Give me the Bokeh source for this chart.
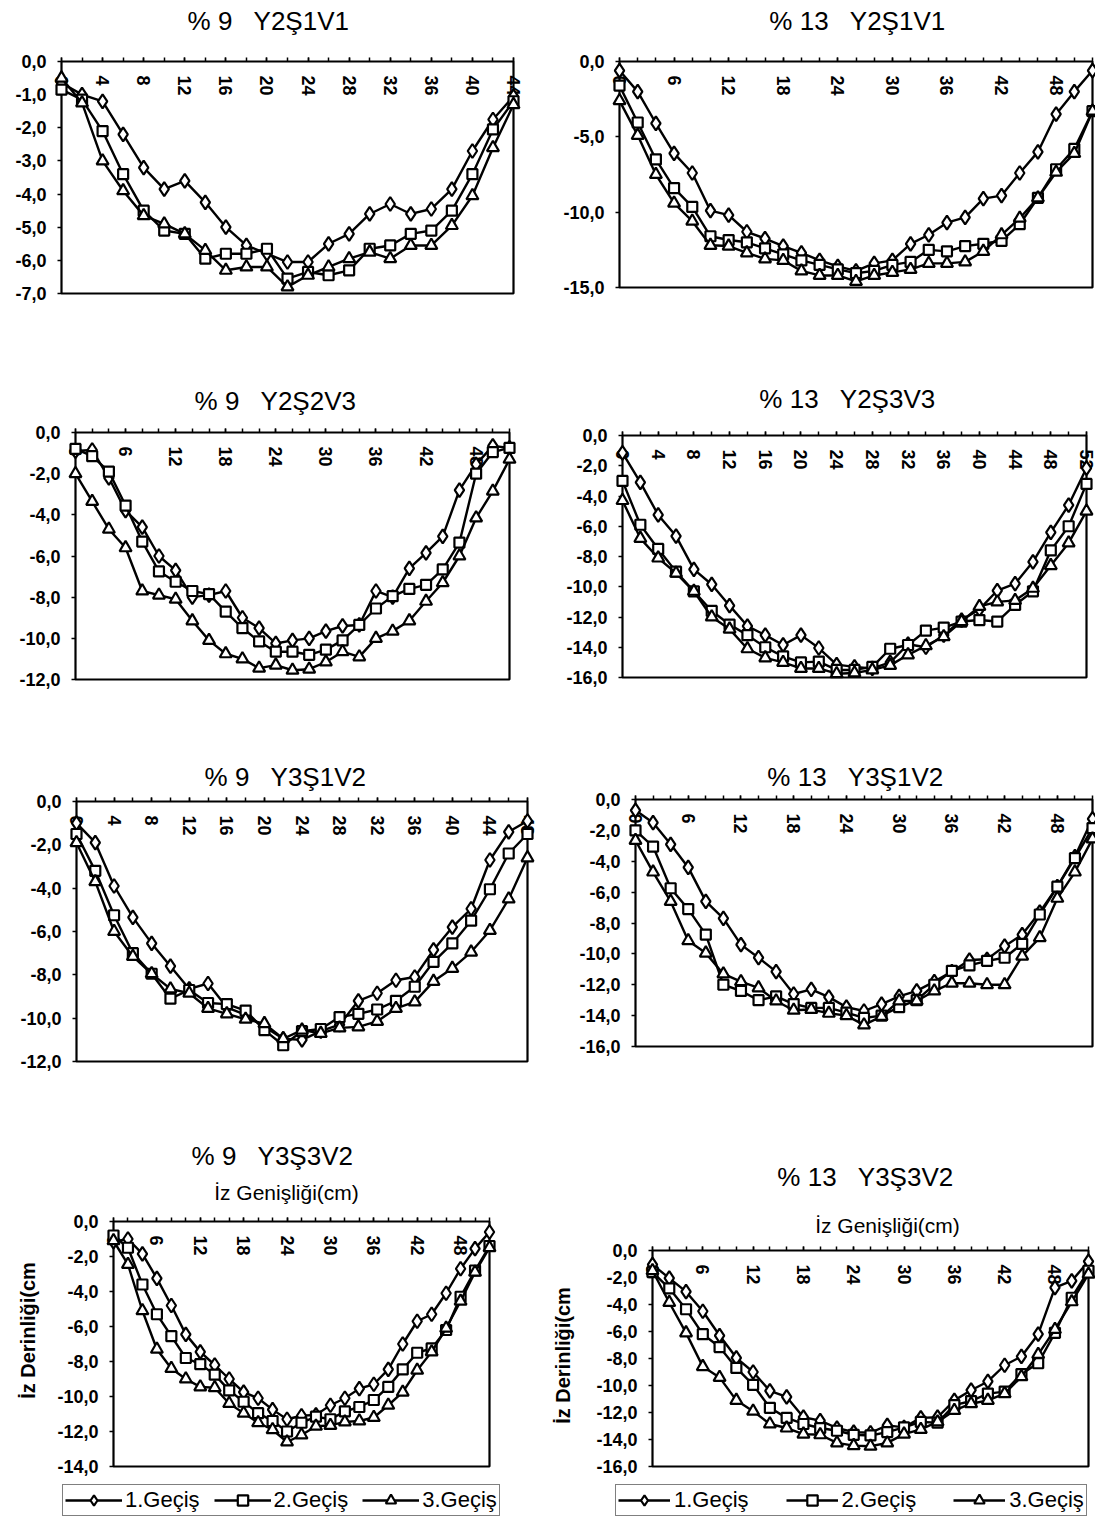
import math
from bokeh.plotting import figure
from bokeh.models import (FixedTicker, CustomJSTickFormatter, Range1d, Label,
                          Legend, LegendItem)
from bokeh.layouts import row, column
from bokeh.embed import file_html
from bokeh.resources import INLINE

FONT = "Liberation Sans"

# ---------------- categories (İz Genişliği, cm) ----------------
width_44 = [0, 2, 4, 6, 8, 10, 12, 14, 16, 18, 20, 22, 24, 26, 28, 30, 32, 34,
            36, 38, 40, 42, 44]
width_48 = [0, 2, 4, 6, 8, 10, 12, 14, 16, 18, 20, 22, 24, 26, 28, 30, 32, 34,
            36, 38, 40, 42, 44, 46, 48]
width_52 = [0, 2, 4, 6, 8, 10, 12, 14, 16, 18, 20, 22, 24, 26, 28, 30, 32, 34,
            36, 38, 40, 42, 44, 46, 48, 50, 52]

# ---------------- tick labels ----------------
xl_4_44 = [0, 4, 8, 12, 16, 20, 24, 28, 32, 36, 40, 44]
xl_4_48 = [0, 4, 8, 12, 16, 20, 24, 28, 32, 36, 40, 44, 48]
xl_4_52 = [0, 4, 8, 12, 16, 20, 24, 28, 32, 36, 40, 44, 48, 52]
xl_6_48 = [0, 6, 12, 18, 24, 30, 36, 42, 48]

yt_7 = [0, -1, -2, -3, -4, -5, -6, -7]
yt_12 = [0, -2, -4, -6, -8, -10, -12]
yt_14 = [0, -2, -4, -6, -8, -10, -12, -14]
yt_15 = [0, -5, -10, -15]
yt_16 = [0, -2, -4, -6, -8, -10, -12, -14, -16]

series_names = ["1.Geçiş", "2.Geçiş", "3.Geçiş"]

# ---------------- İz Derinliği (cm) ----------------
# % 9  Y2Ş1V1
p1_g1 = [-0.65, -1.0, -1.2, -2.2, -3.2, -3.85, -3.6, -4.25, -5.0, -5.55, -5.8,
         -6.05, -6.05, -5.5, -5.2, -4.6, -4.3, -4.6, -4.45, -3.85, -2.7, -1.75, -1.05]
p1_g2 = [-0.85, -1.15, -2.1, -3.4, -4.5, -5.1, -5.2, -5.95, -5.8, -5.8, -5.65,
         -6.55, -6.35, -6.45, -6.3, -5.65, -5.55, -5.2, -5.1, -4.5, -3.4, -2.05, -1.2]
p1_g3 = [-0.5, -1.25, -3.0, -3.9, -4.65, -4.9, -5.2, -5.7, -6.3, -6.2, -6.2,
         -6.8, -6.45, -6.2, -5.95, -5.75, -5.95, -5.55, -5.55, -4.95, -4.05, -2.6, -1.3]

# % 13  Y2Ş1V1
p2_g1 = [-0.6, -2.0, -4.1, -6.1, -7.4, -9.9, -10.2, -11.3, -11.75, -12.25, -12.7,
         -13.2, -13.6, -13.9, -13.4, -13.2, -12.1, -11.5, -10.7, -10.35, -9.1, -8.9,
         -7.4, -6.0, -3.5, -2.0, -0.6]
p2_g2 = [-1.6, -4.05, -6.5, -8.4, -9.65, -11.6, -11.85, -12.0, -12.4, -12.8, -13.2,
         -13.5, -13.8, -14.05, -13.9, -13.5, -13.3, -12.5, -12.6, -12.25, -12.1, -11.9,
         -10.8, -9.05, -7.15, -5.8, -3.3]
p2_g3 = [-2.6, -4.9, -7.5, -9.4, -10.6, -12.2, -12.25, -12.7, -13.1, -13.2, -13.9,
         -14.2, -14.2, -14.6, -14.2, -14.0, -13.8, -13.4, -13.4, -13.3, -12.6, -11.5,
         -10.4, -9.05, -7.35, -6.1, -3.3]

# % 9  Y2Ş2V3
p3_g1 = [-0.9, -0.85, -2.2, -3.8, -4.6, -6.0, -6.7, -8.0, -7.9, -7.7, -9.0, -9.5,
         -10.25, -10.1, -10.0, -9.65, -9.4, -9.35, -7.7, -8.0, -6.6, -5.85, -5.05,
         -2.8, -1.55, -0.65, -0.75]
p3_g2 = [-0.8, -1.15, -1.9, -3.55, -5.3, -6.75, -7.25, -7.7, -7.85, -8.7, -9.5,
         -10.15, -10.65, -10.65, -10.8, -10.55, -10.1, -9.35, -8.55, -7.95, -7.6,
         -7.4, -6.65, -5.35, -2.0, -0.95, -0.75]
p3_g3 = [-2.0, -3.35, -4.7, -5.6, -7.7, -7.9, -8.1, -9.15, -10.1, -10.75, -11.0,
         -11.45, -11.3, -11.55, -11.5, -11.15, -10.65, -10.9, -10.0, -9.65, -9.15,
         -8.2, -7.3, -6.0, -4.15, -2.85, -1.3]

# % 13  Y2Ş3V3
p4_g1 = [-1.15, -3.1, -5.25, -6.65, -8.85, -9.85, -11.25, -12.6, -13.2, -13.85,
         -13.2, -14.05, -15.15, -15.3, -15.4, -15.0, -13.8, -14.0, -13.2, -12.2,
         -11.5, -10.25, -9.8, -8.35, -6.4, -4.6, -2.15]
p4_g2 = [-3.0, -5.9, -7.5, -9.0, -10.3, -11.6, -12.5, -13.2, -14.0, -14.6, -15.0,
         -14.95, -15.5, -15.5, -15.3, -14.1, -13.85, -12.9, -12.7, -12.3, -12.2,
         -12.3, -11.2, -10.3, -7.6, -6.0, -3.2]
p4_g3 = [-4.3, -6.8, -8.1, -9.1, -10.3, -12.0, -12.8, -14.1, -14.7, -15.0, -15.4,
         -15.4, -15.75, -15.7, -15.5, -15.2, -14.5, -13.9, -13.3, -12.3, -11.3,
         -11.0, -10.9, -10.1, -8.6, -7.1, -5.0]

# % 9  Y3Ş1V2
p5_g1 = [-1.0, -1.9, -3.9, -5.35, -6.55, -7.6, -8.65, -8.4, -9.5, -9.85, -10.4,
         -10.95, -11.0, -10.6, -10.3, -9.2, -8.85, -8.25, -8.1, -6.85, -5.8, -4.95,
         -2.7, -1.4, -0.9]
p5_g2 = [-1.5, -3.2, -5.25, -7.0, -7.95, -9.1, -8.7, -9.3, -9.35, -9.65, -10.55,
         -11.25, -10.6, -10.5, -9.95, -9.8, -9.6, -9.2, -8.55, -7.4, -6.55, -5.5,
         -4.05, -2.4, -1.5]
p5_g3 = [-1.9, -3.7, -6.0, -7.15, -7.95, -8.65, -8.85, -9.55, -9.8, -10.05, -10.25,
         -10.95, -10.55, -10.7, -10.45, -10.4, -10.15, -9.55, -9.25, -8.3, -7.7,
         -6.95, -5.95, -4.5, -2.6]

# % 13  Y3Ş1V2
p6_g1 = [-0.7, -1.5, -2.9, -4.4, -6.6, -7.7, -9.4, -10.25, -11.15, -12.6, -12.3,
         -12.8, -13.45, -13.7, -13.25, -12.75, -12.4, -11.8, -11.15, -10.4, -10.35,
         -9.5, -8.75, -7.3, -5.65, -3.7, -1.25]
p6_g2 = [-2.0, -3.05, -5.75, -7.1, -8.75, -12.0, -12.4, -13.0, -12.75, -13.25,
         -13.5, -13.5, -13.8, -14.15, -14.0, -13.45, -13.0, -12.0, -11.1, -10.75,
         -10.45, -10.25, -9.35, -7.45, -5.65, -3.8, -1.85]
p6_g3 = [-2.65, -4.7, -6.6, -9.15, -9.95, -11.3, -11.8, -12.2, -13.05, -13.65,
         -13.6, -13.85, -14.0, -14.6, -14.05, -13.05, -13.05, -12.4, -11.9, -11.9,
         -12.0, -12.0, -10.15, -8.95, -6.4, -4.7, -2.55]

# % 9  Y3Ş3V2
p7_g1 = [-1.15, -1.0, -1.85, -3.25, -4.8, -6.45, -7.45, -8.2, -9.0, -9.75, -10.1,
         -10.75, -11.3, -11.1, -11.05, -10.5, -10.1, -9.55, -9.3, -8.45, -7.0, -5.7,
         -5.3, -4.1, -2.7, -1.55, -0.6]
p7_g2 = [-0.8, -1.5, -3.6, -5.3, -6.55, -7.8, -8.15, -8.75, -9.65, -10.3, -10.95,
         -11.4, -12.0, -11.5, -11.15, -11.3, -10.85, -10.6, -10.2, -9.45, -8.45,
         -7.5, -7.25, -6.2, -4.3, -2.8, -1.4]
p7_g3 = [-1.1, -2.45, -5.1, -7.3, -8.4, -9.0, -9.45, -9.5, -10.4, -10.95, -11.5,
         -11.9, -12.6, -12.2, -11.7, -11.65, -11.45, -11.4, -11.2, -10.5, -9.75,
         -8.5, -7.45, -6.1, -4.55, -2.9, -1.5]

# % 13  Y3Ş3V2
p8_g1 = [-1.05, -2.05, -3.05, -4.5, -6.3, -7.95, -9.0, -10.4, -10.85, -12.35,
         -12.6, -13.15, -13.45, -13.5, -12.95, -13.1, -12.4, -12.35, -11.1, -10.35,
         -9.7, -8.5, -7.85, -6.2, -2.75, -2.25, -0.8]
p8_g2 = [-1.6, -2.8, -4.35, -6.2, -7.15, -8.7, -9.95, -11.65, -12.4, -12.85,
         -13.15, -13.35, -13.65, -13.7, -13.45, -13.1, -12.7, -12.75, -11.45,
         -11.15, -10.6, -10.45, -9.15, -8.35, -6.1, -3.5, -1.5]
p8_g3 = [-1.5, -3.85, -6.1, -8.6, -9.4, -11.1, -11.9, -12.85, -13.15, -13.6,
         -13.65, -14.25, -14.45, -14.5, -14.25, -13.6, -13.25, -12.7, -11.85,
         -11.35, -11.1, -10.6, -9.35, -7.7, -5.85, -3.8, -1.75]

SP = " \u00a0 "   # three visible spaces (non-collapsing)
titles = ["% 9" + SP + "Y2Ş1V1", "% 13" + SP + "Y2Ş1V1",
          "% 9" + SP + "Y2Ş2V3", "% 13" + SP + "Y2Ş3V3",
          "% 9" + SP + "Y3Ş1V2", "% 13" + SP + "Y3Ş1V2",
          "% 9" + SP + "Y3Ş3V2", "% 13" + SP + "Y3Ş3V2"]
x_title = "İz Genişliği(cm)"
y_title = "İz Derinliği(cm"

# ---------------- layout (page pixels) ----------------
PANELS = [
    dict(fig=(0, 0, 545, 383), box=(61, 513, 61, 293), x=width_44,
         ys=(p1_g1, p1_g2, p1_g3), yt=yt_7, xl=xl_4_44, tpos=(268, 20)),
    dict(fig=(545, 0, 550, 383), box=(619, 1092, 61, 287), x=width_52,
         ys=(p2_g1, p2_g2, p2_g3), yt=yt_15, xl=xl_6_48, tpos=(857, 20)),
    dict(fig=(0, 383, 545, 357), box=(75, 509, 432, 679), x=width_52,
         ys=(p3_g1, p3_g2, p3_g3), yt=yt_12, xl=xl_6_48, tpos=(275, 400)),
    dict(fig=(545, 383, 550, 357), box=(622, 1086, 435, 677), x=width_52,
         ys=(p4_g1, p4_g2, p4_g3), yt=yt_16, xl=xl_4_52, tpos=(847, 398)),
    dict(fig=(0, 740, 545, 380), box=(76, 527, 801, 1061), x=width_48,
         ys=(p5_g1, p5_g2, p5_g3), yt=yt_12, xl=xl_4_48, tpos=(285, 776)),
    dict(fig=(545, 740, 550, 380), box=(635, 1092, 799, 1046), x=width_52,
         ys=(p6_g1, p6_g2, p6_g3), yt=yt_16, xl=xl_6_48, tpos=(855, 776)),
    dict(fig=(0, 1120, 545, 397), box=(113, 489, 1221, 1466), x=width_52,
         ys=(p7_g1, p7_g2, p7_g3), yt=yt_14, xl=xl_6_48, tpos=(272, 1155),
         xt=(286, 1192), ytp=(27, 1330),
         leg=dict(left=62, bottom=1516, gw=57, ls=3, sp=14)),
    dict(fig=(545, 1120, 550, 397), box=(652, 1088, 1250, 1466), x=width_52,
         ys=(p8_g1, p8_g2, p8_g3), yt=yt_16, xl=xl_6_48, tpos=(865, 1176),
         xt=(887, 1225), ytp=(562, 1355),
         leg=dict(left=615, bottom=1516, gw=52, ls=4, sp=37)),
]

MARKERS = [dict(marker="diamond", size=14),
           dict(marker="square", size=10),
           dict(marker="triangle", size=12)]


def style_text(obj, size, bold=False):
    obj.text_font = FONT
    obj.text_font_size = size
    obj.text_color = "black"
    if bold:
        obj.text_font_style = "bold"


def build(i, cfg):
    fxr, fyr, fw, fh = cfg["fig"]
    BL, BR, BT, BB = cfg["box"]
    xs = cfg["x"]
    yt = cfg["yt"]
    xmax = xs[-1]
    ymin = yt[-1]
    bl, br, bt, bb = BL - fxr, BR - fxr, BT - fyr, BB - fyr
    ux = xmax / (br - bl)
    uy = -ymin / (bb - bt)

    def dx(px):
        return (px - fxr - bl) * ux

    def dy(py):
        return -(py - fyr - bt) * uy

    p = figure(width=fw, height=fh,
               x_range=Range1d(-bl * ux, xmax + (fw - br) * ux),
               y_range=Range1d(ymin - (fh - bb) * uy, bt * uy),
               output_backend="svg", toolbar_location=None, title="")
    p.title.visible = False
    p.min_border_left = 0
    p.min_border_right = 0
    p.min_border_top = 0
    p.min_border_bottom = 0
    p.outline_line_color = None
    p.background_fill_color = "white"
    p.border_fill_color = "white"
    p.grid.visible = False

    # plot-area box
    p.quad(left=[0], right=[xmax], top=[0], bottom=[ymin], fill_color=None,
           line_color="black", line_width=2.2)

    # x axis crosses at y = 0; its labels hang inside the plot area
    xa = p.xaxis[0]
    xa.fixed_location = 0
    xa.ticker = FixedTicker(ticks=cfg["xl"], minor_ticks=xs)
    xa.formatter = CustomJSTickFormatter(code="return tick.toFixed(0);")
    xa.axis_line_color = None
    xa.major_tick_in = 4
    xa.major_tick_out = 0
    xa.minor_tick_in = 4
    xa.minor_tick_out = 0
    xa.major_tick_line_width = 1.5
    xa.minor_tick_line_width = 1.5
    xa.major_label_orientation = -math.pi / 2
    xa.major_label_standoff = 14
    xa.major_label_text_font = FONT
    xa.major_label_text_font_size = "18px"
    xa.major_label_text_font_style = "bold"
    xa.major_label_text_color = "black"

    ya = p.yaxis[0]
    ya.fixed_location = 0
    ya.ticker = FixedTicker(ticks=yt)
    ya.formatter = CustomJSTickFormatter(
        code="return tick.toFixed(1).replace('.', ',');")
    ya.axis_line_color = None
    ya.major_tick_out = 4
    ya.major_tick_in = 0
    ya.minor_tick_out = 0
    ya.minor_tick_in = 0
    ya.major_tick_line_width = 1.5
    ya.major_label_standoff = 11
    ya.major_label_text_font = FONT
    ya.major_label_text_font_size = "18px"
    ya.major_label_text_font_style = "bold"
    ya.major_label_text_color = "black"

    items = []
    for k, yv in enumerate(cfg["ys"]):
        lr = p.line(xs, yv, line_color="black", line_width=2.4)
        mr = p.scatter(xs, yv, marker=MARKERS[k]["marker"],
                       size=MARKERS[k]["size"],
                       fill_color="white", line_color="black", line_width=2.2)
        lr.level = "overlay"
        mr.level = "overlay"
        items.append(LegendItem(label=series_names[k], renderers=[lr, mr]))

    t = Label(x=dx(cfg["tpos"][0]), y=dy(cfg["tpos"][1]), text=titles[i],
              text_align="center", text_baseline="middle")
    style_text(t, "26px")
    p.add_layout(t)

    if "xt" in cfg:
        ax, ay = cfg["xt"]
        lx = Label(x=dx(ax), y=dy(ay), text=x_title, text_align="center",
                   text_baseline="middle")
        style_text(lx, "21px")
        p.add_layout(lx)
        yx, yy = cfg["ytp"]
        ly = Label(x=dx(yx), y=dy(yy), text=y_title, text_align="center",
                   text_baseline="middle", angle=math.pi / 2)
        style_text(ly, "20px", bold=True)
        p.add_layout(ly)

    if "leg" in cfg:
        lg = cfg["leg"]
        legend = Legend(items=items, orientation="horizontal",
                        location=(lg["left"] - fxr, fyr + fh - lg["bottom"]),
                        glyph_width=lg["gw"], glyph_height=26,
                        label_standoff=lg["ls"], spacing=lg["sp"], padding=2,
                        margin=0, border_line_color="black",
                        border_line_width=1.5, background_fill_color="white",
                        background_fill_alpha=1.0, label_text_font=FONT,
                        label_text_font_size="22px", label_text_color="black")
        p.add_layout(legend)
    return p


figs = [build(i, c) for i, c in enumerate(PANELS)]
layout = column(row(figs[0], figs[1]), row(figs[2], figs[3]),
                row(figs[4], figs[5]), row(figs[6], figs[7]))

open("out.html", "w").write(file_html(layout, INLINE))
